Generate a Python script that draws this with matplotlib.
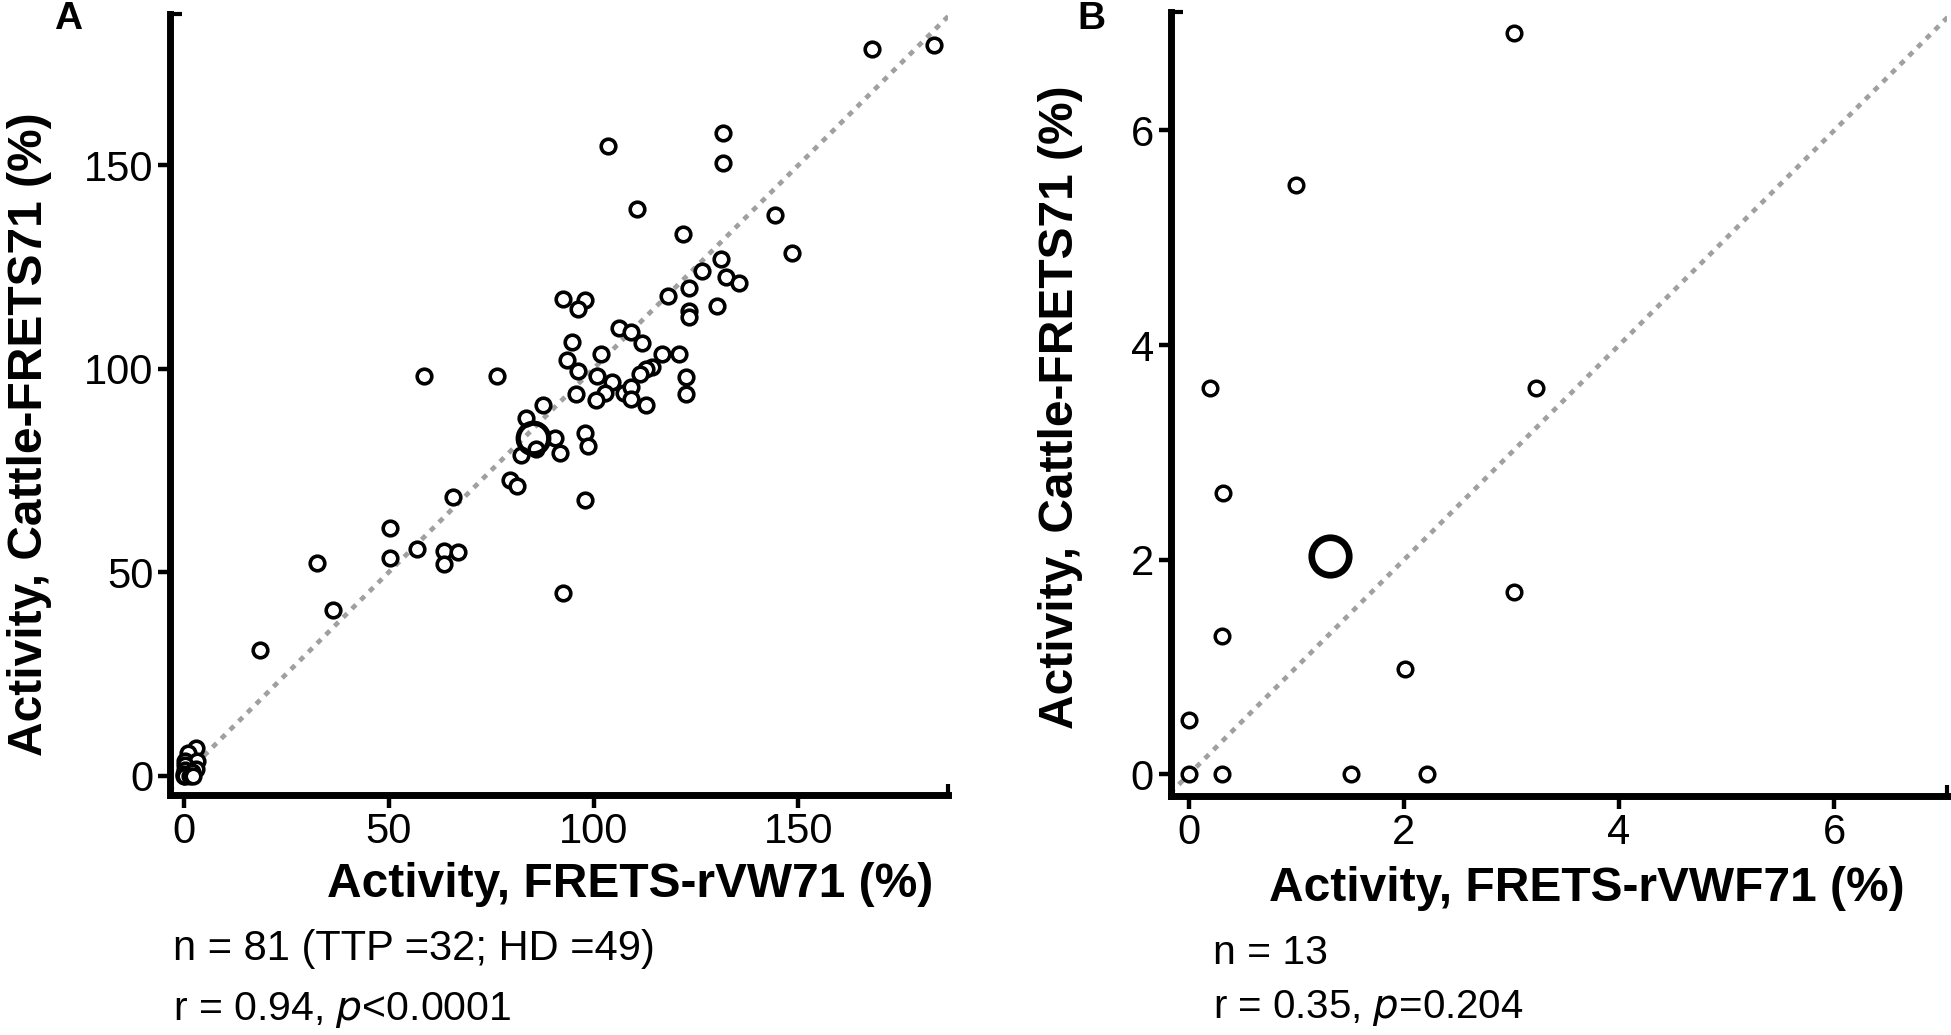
import numpy as np
import matplotlib
matplotlib.use("Agg")
import matplotlib.pyplot as plt
from matplotlib.lines import Line2D

plt.rcParams["font.family"] = ["Liberation Sans", "DejaVu Sans"]

# Панель B: 13 зразків (у панелі A вони ж - кластер біля нуля)
b_x = [3.02, 1.00, 0.20, 3.23, 0.32, 3.02, 0.31, 2.01, 0.00, 0.00, 0.31, 1.51, 2.21]
b_y = [6.91, 5.49, 3.60, 3.60, 2.62, 1.70, 1.29, 0.98, 0.51, 0.00, 0.00, 0.00, 0.00]
b_mean = (1.31, 2.04)

# Панель A: решта 68 зразків
a_x = [167.9, 183.2, 103.6, 131.6, 131.6, 110.5, 144.2, 121.8, 148.5, 131.0,
       126.4, 132.4, 135.5, 123.4, 118.2, 92.6, 98.0, 96.3, 130.1, 123.4,
       123.4, 106.1, 109.1, 111.9, 94.7, 101.8, 116.6, 120.9, 93.5, 114.3,
       112.8, 111.3, 96.3, 100.9, 122.6, 58.5, 76.4, 104.5, 102.9, 107.5,
       95.7, 122.6, 109.1, 109.1, 100.7, 112.8, 87.6, 83.6, 90.5, 97.8,
       98.7, 86.0, 91.8, 82.2, 79.7, 81.3, 97.8, 65.7, 50.4, 50.4,
       56.9, 63.5, 67.0, 63.5, 32.6, 36.3, 92.6, 18.7]
a_y = [178.5, 179.6, 154.8, 157.8, 150.5, 139.1, 137.7, 133.0, 128.3, 126.9,
       124.1, 122.5, 121.1, 119.8, 117.8, 117.2, 116.9, 114.7, 115.5, 114.1,
       112.6, 109.9, 108.9, 106.4, 106.6, 103.6, 103.7, 103.7, 102.2, 100.3,
       100.0, 98.6, 99.4, 98.3, 98.0, 98.3, 98.3, 96.7, 93.9, 93.9,
       93.8, 93.8, 95.4, 92.6, 92.4, 91.0, 91.0, 87.9, 83.0, 84.3,
       80.9, 80.2, 79.3, 78.8, 72.7, 71.2, 67.8, 68.4, 60.9, 53.5,
       55.8, 55.1, 54.9, 52.1, 52.3, 40.8, 45.0, 30.9]
a_mean = (85.3, 83.0)

a_ticks = [0, 50, 100, 150]
b_ticks = [0, 2, 4, 6]

fig = plt.figure(figsize=(19.51, 10.35), dpi=100)
axA = fig.add_axes([0.0871, 0.232, 0.399, 0.754])
axB = fig.add_axes([0.600, 0.231, 0.398, 0.757])


def style(ax, ticks, xlim, ylim):
    ax.set_xlim(*xlim)
    ax.set_ylim(*ylim)
    ax.set_xticks(ticks)
    ax.set_yticks(ticks)
    for s in ["top", "right"]:
        ax.spines[s].set_visible(False)
    for s in ["left", "bottom"]:
        ax.spines[s].set_linewidth(5)
    ax.tick_params(length=9, width=3.2, pad=3, labelsize=30)
    # лінія y = x
    ax.plot([-10, 200], [-10, 200], color="#a0a0a0", lw=3.4,
            linestyle=(0, (1.2, 1.4)), dash_capstyle="butt", zorder=1)
    # засічки на кінцях осей
    ax.add_line(Line2D([0, 0.016], [1, 1], transform=ax.transAxes,
                       color="black", lw=3, clip_on=False, solid_capstyle="butt"))
    ax.add_line(Line2D([1, 1], [0, 0.014], transform=ax.transAxes,
                       color="black", lw=3, clip_on=False, solid_capstyle="butt"))


LABEL = dict(fontsize=34.5, fontweight="bold")

# --- A ---
style(axA, a_ticks, (-3.4, 186.6), (-4.7, 187))
axA.plot(a_x + b_x, a_y + b_y, "o", ms=10.5, mfc="white", mec="black", mew=2.6,
         linestyle="none", zorder=3, clip_on=False)
axA.plot([a_mean[0]], [a_mean[1]], "o", ms=22, mfc="none", mec="black",
         mew=3.8, zorder=4)
axA.set_xlabel("Activity, FRETS-rVW71 (%)", **LABEL)
axA.xaxis.set_label_coords(0.591, -0.086)
axA.set_ylabel("Activity, Cattle-FRETS71 (%)", **LABEL)
axA.yaxis.set_label_coords(-0.152, 0.462)

# --- B ---
style(axB, b_ticks, (-0.17, 7.05), (-0.2, 7.1))
axB.plot(b_x, b_y, "o", ms=10.5, mfc="white", mec="black", mew=2.5,
         linestyle="none", zorder=3, clip_on=False)
axB.plot([b_mean[0]], [b_mean[1]], "o", ms=27, mfc="none", mec="black",
         mew=4.8, zorder=4)
axB.set_xlabel("Activity, FRETS-rVWF71 (%)", **LABEL)
axB.xaxis.set_label_coords(0.536, -0.089)
axB.set_ylabel("Activity, Cattle-FRETS71 (%)", **LABEL)
axB.yaxis.set_label_coords(-0.113, 0.496)

# підписи панелей і статистика
W, H = 1951, 1035
fig.text(68 / W, 1 - 19 / H, "A", fontsize=28, fontweight="bold", ha="center", va="center")
fig.text(1091 / W, 1 - 19 / H, "B", fontsize=28, fontweight="bold", ha="center", va="center")

fig.text(173 / W, 1 - 949 / H, "n = 81 (TTP =32; HD =49)", fontsize=30, va="center")
fig.text(173 / W, 1 - 1010 / H, r"r = 0.94, $\it{p}$<0.0001", fontsize=29.5, va="center")
fig.text(1213 / W, 1 - 953 / H, "n = 13", fontsize=29.5, va="center")
fig.text(1213 / W, 1 - 1008 / H, r"r = 0.35, $\it{p}$=0.204", fontsize=29, va="center")

fig.savefig("out.png", dpi=100)
